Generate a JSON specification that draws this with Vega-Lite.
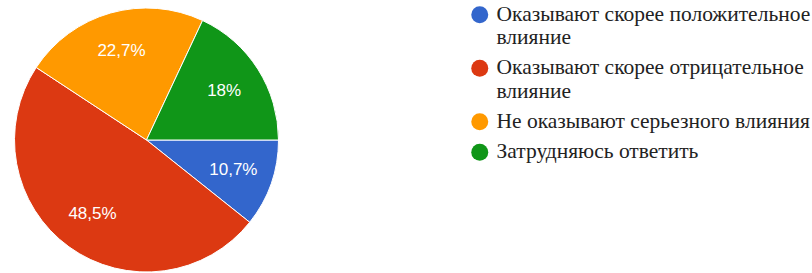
{
  "$schema": "https://vega.github.io/schema/vega-lite/v6.json",
  "width": 293,
  "height": 280,
  "padding": 0,
  "autosize": {"type": "pad"},
  "background": "white",
  "config": {"view": {"stroke": null}},
  "data": {
    "values": [
      {"category": "Оказывают скорее положительное|влияние", "value": 10.7, "pct": "10,7%", "order": 1},
      {"category": "Оказывают скорее отрицательное|влияние", "value": 48.5, "pct": "48,5%", "order": 2},
      {"category": "Не оказывают серьезного влияния", "value": 22.7, "pct": "22,7%", "order": 3},
      {"category": "Затрудняюсь ответить", "value": 18, "pct": "18%", "order": 4}
    ]
  },
  "encoding": {
    "theta": {"field": "value", "type": "quantitative", "stack": true, "scale": {"range": [1.5708, 7.854]}},
    "order": {"field": "order", "type": "quantitative"},
    "color": {
      "field": "category",
      "type": "nominal",
      "scale": {
        "domain": ["Оказывают скорее положительное|влияние", "Оказывают скорее отрицательное|влияние", "Не оказывают серьезного влияния", "Затрудняюсь ответить"],
        "range": ["#3366cc", "#dc3912", "#ff9900", "#109618"]
      },
      "legend": {
        "title": null,
        "orient": "none",
        "legendX": 469,
        "legendY": 4,
        "padding": 0,
        "symbolType": "circle",
        "symbolSize": 289,
        "symbolStrokeWidth": 0,
        "labelOffset": 6,
        "labelFont": "Liberation Serif",
        "labelFontSize": 21.5,
        "labelColor": "#222222",
        "labelLimit": 400,
        "labelLineHeight": 23.5,
        "rowPadding": 7.5,
        "labelExpr": "split(datum.label, '|')"
      }
    }
  },
  "layer": [
    {"mark": {"type": "arc", "outerRadius": 132, "stroke": "white", "strokeWidth": 1}},
    {
      "mark": {"type": "text", "radius": 92, "font": "Liberation Sans", "fontSize": 17, "fill": "white"},
      "encoding": {"text": {"field": "pct", "type": "nominal"}, "color": {"value": "white"}}
    }
  ]
}
